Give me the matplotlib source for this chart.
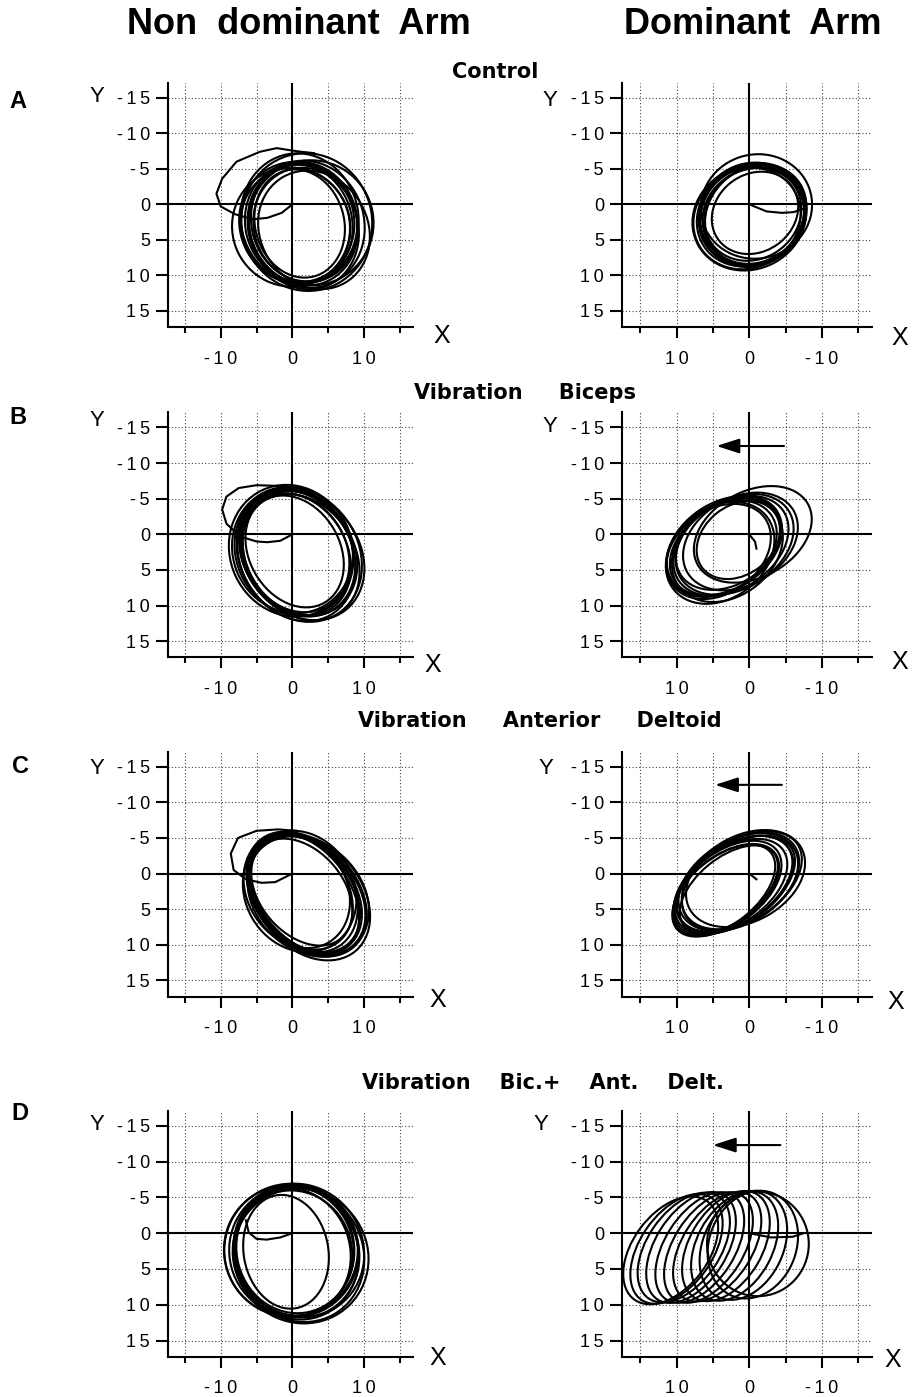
import matplotlib
matplotlib.use("Agg")
import matplotlib.pyplot as plt
from matplotlib.patches import Ellipse

plt.rcParams['font.family'] = ['Liberation Sans', 'DejaVu Sans']

W, H = 922, 1397

# ---- data -------------------------------------------------------------
column_titles = ["Non  dominant  Arm", "Dominant  Arm"]
row_letters = ["A", "B", "C", "D"]
row_titles = ["Control", "Vibration     Biceps", "Vibration     Anterior     Deltoid",
              "Vibration    Bic.+    Ant.    Delt."]

y_ticks = [-15, -10, -5, 0, 5, 10, 15]
x_major = [-10, 0, 10]
x_minor = [-15, -5, 5, 15]
x_grid = [-15, -10, -5, 5, 10, 15]
y_grid = [-15, -10, -5, 5, 10, 15]

# cycles of the hand path: (centre x, centre y, major axis, minor axis, tilt deg)
cycles_nd_A = [(1.0, 2.7, 15.4, 12.4, 75), (1.3, 2.6, 16.6, 14.0, 75), (1.5, 2.8, 17.4, 15.0, 72),
               (1.2, 2.5, 17.0, 15.6, 78), (2.0, 2.8, 18.0, 16.0, 75), (2.6, 2.6, 17.6, 17.4, 80),
               (1.5, 3.2, 17.8, 15.2, 70), (0.6, 2.5, 17.0, 16.0, 75), (3.0, 3.6, 17.2, 15.0, 60),
               (1.0, 2.0, 18.4, 16.4, 80), (1.8, 2.9, 16.2, 14.4, 75), (0.4, 3.0, 16.4, 15.2, 70),
               (-0.2, 3.2, 16.8, 16.4, 70), (2.0, 2.5, 19.4, 18.2, 80)]
cycles_d_A = [(-0.8, 1.2, 12.6, 10.8, 40), (-0.5, 1.4, 14.0, 12.4, 40), (-0.3, 1.6, 15.0, 13.4, 35),
              (-0.6, 1.5, 15.4, 13.8, 45), (0.0, 1.9, 16.0, 14.4, 30), (-0.4, 1.3, 14.8, 14.0, 40),
              (-0.8, 1.6, 15.0, 13.0, 50), (-1.0, 0.3, 15.4, 14.6, 20), (-0.6, 1.7, 14.4, 13.2, 35),
              (-0.2, 1.5, 15.6, 13.6, 40), (-0.9, 1.4, 15.0, 12.8, 45), (0.3, 2.0, 15.2, 13.8, 35)]
cycles_nd_B = [(0.3, 2.4, 16.6, 12.6, 60), (0.6, 2.8, 18.0, 14.0, 60), (0.8, 2.6, 18.8, 15.2, 55),
               (0.5, 3.0, 19.2, 15.6, 60), (1.0, 2.9, 19.6, 16.4, 58), (0.2, 2.5, 18.4, 16.0, 62),
               (1.2, 3.2, 19.0, 14.8, 55), (0.0, 2.2, 18.0, 16.6, 65), (0.7, 2.7, 18.6, 15.0, 58),
               (-0.2, 2.3, 18.8, 17.0, 65), (1.4, 3.0, 19.4, 15.8, 52), (0.4, 2.6, 17.4, 14.2, 60)]
cycles_d_B = [(-0.5, 0.0, 17.4, 12.0, 30), (2.5, 1.6, 17.4, 12.0, 35), (3.2, 1.8, 17.0, 11.6, 35),
              (3.8, 2.0, 16.6, 11.8, 35), (2.0, 1.4, 17.6, 12.4, 33), (4.2, 2.4, 15.8, 11.6, 38),
              (3.0, 2.2, 16.8, 12.8, 40), (1.5, 0.8, 12.6, 9.6, 40), (3.5, 1.6, 17.2, 12.0, 35),
              (1.2, 1.0, 17.0, 12.2, 32), (4.0, 2.6, 16.4, 12.6, 40), (2.8, 1.2, 16.0, 11.4, 36)]
cycles_nd_C = [(1.3, 2.6, 17.0, 11.6, 50), (1.8, 2.9, 18.8, 13.2, 50), (1.5, 2.7, 18.0, 13.6, 55),
               (2.0, 3.0, 19.6, 14.0, 48), (1.6, 2.8, 19.2, 12.4, 52), (2.2, 3.2, 18.8, 14.8, 45),
               (1.0, 2.4, 18.0, 13.0, 55), (2.4, 3.3, 19.8, 14.4, 50), (1.0, 2.5, 17.6, 15.2, 60),
               (1.7, 2.8, 18.6, 12.8, 50), (2.0, 3.1, 19.0, 13.6, 47), (0.6, 2.3, 17.2, 13.8, 58)]
cycles_d_C = [(2.0, 1.5, 18.0, 11.0, 34), (1.0, 1.0, 18.4, 11.2, 34), (2.5, 1.8, 17.6, 10.4, 36),
              (3.0, 2.0, 17.2, 10.0, 38), (1.5, 1.2, 18.0, 11.6, 32), (3.5, 2.4, 16.8, 9.2, 40),
              (2.2, 1.6, 18.4, 10.8, 35), (2.8, 2.2, 16.0, 8.8, 40), (0.5, 0.7, 17.6, 12.0, 30),
              (1.8, 1.4, 18.2, 10.6, 34), (3.2, 2.3, 17.0, 9.6, 38), (1.2, 1.0, 17.8, 11.4, 33)]
cycles_nd_D = [(-0.9, 2.6, 16.0, 11.8, 80), (0.0, 2.6, 18.0, 16.0, 70), (0.5, 2.8, 18.8, 17.2, 65),
               (0.2, 2.5, 18.4, 18.0, 70), (1.0, 3.0, 19.2, 17.6, 60), (-0.2, 2.4, 18.6, 18.6, 0),
               (1.2, 3.2, 19.2, 18.4, 45), (0.4, 2.2, 18.0, 16.4, 80), (-0.5, 2.5, 18.4, 18.0, 60),
               (0.7, 2.7, 18.4, 17.0, 65), (0.0, 2.8, 17.6, 16.6, 75), (0.9, 2.4, 19.0, 17.8, 55)]
cycles_d_D = [(-1.2, 1.5, 14.6, 14.0, 90), (-0.5, 1.6, 15.4, 12.0, 70), (0.8, 1.7, 16.0, 11.0, 65),
              (2.0, 1.8, 16.4, 10.4, 62), (3.2, 1.8, 16.8, 10.0, 60), (4.4, 1.9, 17.0, 9.6, 58),
              (5.6, 2.0, 17.2, 9.6, 58), (6.8, 2.0, 17.2, 9.6, 58), (8.0, 2.0, 17.2, 9.8, 58),
              (9.0, 2.0, 17.2, 10.0, 56), (10.0, 2.2, 17.2, 10.0, 56), (10.8, 2.4, 17.0, 10.4, 54)]

# first movement out of the rest position (x list, y list)
start_nd_A = ([0, -1.5, -3.5, -5.5, -8.0, -10.0, -10.6, -9.8, -7.8, -4.5, -2.2, -0.3, 1.1, 3.0],
              [0, 1.2, 1.9, 2.1, 1.4, 0.3, -1.5, -3.6, -6.0, -7.4, -7.9, -7.6, -7.4, -7.2])
start_d_A = ([0, -2.4, -4.5, -6.1, -7.5], [0, 1.0, 1.2, 1.1, 0.6])
start_nd_B = ([0, -1.7, -3.5, -5.0, -7.3, -9.2, -9.8, -9.2, -7.5, -5.0, -2.0, 0.5],
              [0, 0.9, 1.1, 1.0, 0.3, -1.5, -3.5, -5.3, -6.5, -6.9, -6.8, -6.5])
start_d_B = ([0, -0.8, -1.0], [0, 1.0, 2.0])
start_nd_C = ([0, -2.4, -4.3, -6.5, -8.2, -8.6, -7.6, -5.0, -2.0, 0.5],
              [0, 1.2, 1.3, 0.8, -0.5, -2.8, -5.0, -6.0, -6.2, -6.0])
start_d_C = ([0, -1.0], [0, 0.8])
start_nd_D = ([0, -1.7, -3.6, -5.0, -6.1, -6.5], [0, 0.6, 0.9, 0.8, -0.1, -1.8])
start_d_D = ([0, -3.0, -6.0, -7.5], [0, 0.6, 0.5, 0.0])

# direction of the drift (x start, x end, y)
drift_B = (-4.8, 4.5, -12.4)
drift_C = (-4.5, 4.7, -12.45)
drift_D = (-4.3, 5.0, -12.3)

# ---- layout ------------------------------------------------------------
row_px = [(82.7, 327.0), (412.5, 657.3), (751.7, 996.5), (1110.7, 1356.7)]
col_px = [(168.0, 413.0), (622.0, 872.0)]
col_xlim = [(-17.35, 16.8), (17.5, -16.9)]
ylim = (17.25, -17.1)

letter_px = [(18, 102), (18, 418), (20, 766), (20, 1113)]
ylabel_px = [[(97, 97), (550, 100)], [(97, 420), (550, 427)],
             [(97, 769), (546, 769)], [(97, 1124), (541, 1124)]]
xlabel_px = [[(442, 336), (900, 338)], [(433, 665), (900, 662)],
             [(438, 1000), (896, 1002)], [(438, 1358), (893, 1360)]]
row_title_px = [(495, 72), (525, 393), (540, 721), (543, 1083)]


def fx(x):
    return x / W


def fy(y):
    return 1 - y / H


def tick_text(v):
    return "\u2009".join(str(v))


fig = plt.figure(figsize=(W / 100, H / 100), dpi=100)

panels = [
    [(cycles_nd_A, start_nd_A, None), (cycles_d_A, start_d_A, None)],
    [(cycles_nd_B, start_nd_B, None), (cycles_d_B, start_d_B, drift_B)],
    [(cycles_nd_C, start_nd_C, None), (cycles_d_C, start_d_C, drift_C)],
    [(cycles_nd_D, start_nd_D, None), (cycles_d_D, start_d_D, drift_D)],
]

for r, (top, bot) in enumerate(row_px):
    for c, (lft, rgt) in enumerate(col_px):
        ax = fig.add_axes([fx(lft), fy(bot), (rgt - lft) / W, (bot - top) / H])
        ax.set_xlim(*col_xlim[c])
        ax.set_ylim(*ylim)
        for s in ("top", "right"):
            ax.spines[s].set_visible(False)
        for s in ("left", "bottom"):
            ax.spines[s].set_linewidth(1.5)

        for g in x_grid:
            ax.axvline(g, color="#444444", lw=0.8, ls=(0, (1, 2)), zorder=1)
        for g in y_grid:
            ax.axhline(g, color="#444444", lw=0.8, ls=(0, (1, 2)), zorder=1)
        ax.axhline(0, color="black", lw=1.5, zorder=2)
        ax.axvline(0, color="black", lw=1.5, zorder=2)

        ax.set_yticks(y_ticks)
        ax.set_yticklabels([tick_text(v) for v in y_ticks])
        ax.set_xticks(x_major)
        ax.set_xticklabels([tick_text(v) for v in x_major])
        ax.set_xticks(x_minor, minor=True)
        ax.tick_params(axis="y", length=9, width=1.5, pad=4, labelsize=13)
        ax.tick_params(axis="x", which="major", length=8, width=1.5, pad=9, labelsize=13)
        ax.tick_params(axis="x", which="minor", length=4, width=1.5)

        cycles, start, drift = panels[r][c]
        for (cx, cy, maj, mnr, ang) in cycles:
            ax.add_patch(Ellipse((cx, cy), maj, mnr, angle=ang, fill=False,
                                 ec="black", lw=1.5, zorder=3))
        ax.plot(start[0], start[1], color="black", lw=1.5, zorder=3)

        if drift is not None:
            ax.annotate("", xy=(drift[1], drift[2]), xytext=(drift[0], drift[2]),
                        arrowprops=dict(arrowstyle="-|>,head_length=1.4,head_width=0.45",
                                        mutation_scale=10, color="black", lw=1.5,
                                        shrinkA=0, shrinkB=0), zorder=4)

        yx, yy = ylabel_px[r][c]
        fig.text(fx(yx), fy(yy), "Y", fontsize=16, ha="center", va="center")
        xx, xy = xlabel_px[r][c]
        fig.text(fx(xx), fy(xy), "X", fontsize=18, ha="center", va="center")

    lx, ly = letter_px[r]
    fig.text(fx(lx), fy(ly), row_letters[r], fontsize=17,
             fontweight="bold", ha="center", va="center")

for t, (x, y) in zip(row_titles, row_title_px):
    fig.text(fx(x), fy(y), t, fontsize=15, fontweight="bold", ha="center", va="center",
             family=["DejaVu Sans"])

fig.text(fx(299), fy(25), column_titles[0], fontsize=26, fontweight="bold",
         ha="center", va="center")
fig.text(fx(753), fy(25), column_titles[1], fontsize=26, fontweight="bold",
         ha="center", va="center")

fig.savefig("out.png", dpi=100)
